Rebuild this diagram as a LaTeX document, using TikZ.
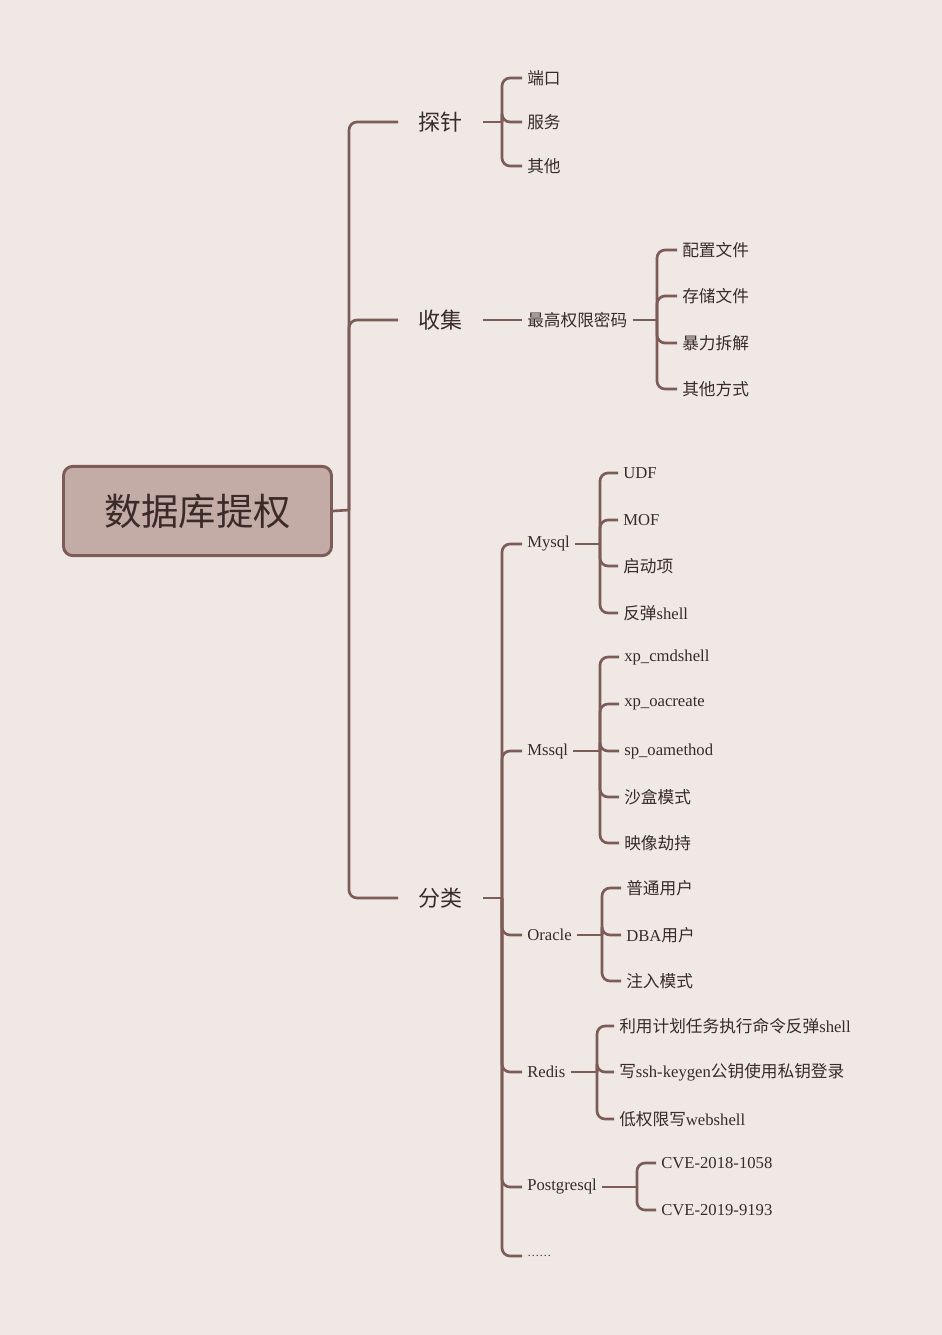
\documentclass[tikz,border=0pt]{standalone}
\usepackage{fontspec}
\setmainfont{Liberation Serif}
\newfontfamily\cjk{Noto Sans CJK SC}
\newcommand\zh[1]{{\cjk #1}}
\definecolor{bg}{HTML}{EFE8E5}
\definecolor{ln}{HTML}{7D5C57}
\definecolor{tx}{HTML}{3A2A28}
\definecolor{rootfill}{HTML}{C2ACA5}
\begin{document}
\begin{tikzpicture}[x=0.75pt,y=-0.75pt,
  conn/.style={draw=ln,line width=2pt,rounded corners=6pt},
  leaf/.style={anchor=west,inner xsep=3.75pt,inner ysep=0pt,text=tx,font=\fontsize{12.5}{14}\selectfont},
  lvlone/.style={anchor=west,inner xsep=15pt,inner ysep=0pt,text=tx,font=\fontsize{16.5}{18}\selectfont\cjk},
  rootbox/.style={draw=ln,line width=2.2pt,fill=rootfill,rounded corners=7pt,minimum width=201pt,minimum height=67pt,text=tx,font=\fontsize{28}{30}\selectfont\cjk}]
\fill[bg] (0,0) rectangle (942,1335);
\useasboundingbox (0,0) rectangle (942,1335);
% root
\node[rootbox] (root) at (197.5,511) {数据库提权};
\node[lvlone] (tz) at (398,122) {探针};
\node[lvlone] (sj) at (398,320) {收集};
\node[lvlone] (fl) at (398,898) {分类};
\coordinate (t) at (349,510);
\draw[conn] (root.east) -- (t);
\foreach \n in {tz,sj,fl} \draw[conn] (t) |- (\n.west);
% tanzhen
\node[leaf] (dk) at (522,78) {\zh{端口}};
\node[leaf] (fw) at (522,122) {\zh{服务}};
\node[leaf] (qt) at (522,166) {\zh{其他}};
\coordinate (tzb) at (502,122);
\draw[conn] (tz.east) -- (tzb);
\foreach \n in {dk,fw,qt} \draw[conn] (tzb) |- (\n.west);
% shouji
\node[leaf] (zg) at (522,320) {\zh{最高权限密码}};
\draw[conn] (sj.east) -- (zg.west);
\node[leaf] (p1) at (677,250) {\zh{配置文件}};
\node[leaf] (p2) at (677,296) {\zh{存储文件}};
\node[leaf] (p3) at (677,343) {\zh{暴力拆解}};
\node[leaf] (p4) at (677,389) {\zh{其他方式}};
\coordinate (zgb) at (657,320);
\draw[conn] (zg.east) -- (zgb);
\foreach \n in {p1,p2,p3,p4} \draw[conn] (zgb) |- (\n.west);
% fenlei
\node[leaf] (my) at (522,544) {Mysql};
\node[leaf] (ms) at (522,751) {Mssql};
\node[leaf] (or) at (522,935) {Oracle};
\node[leaf] (rd) at (522,1072) {Redis};
\node[leaf] (pg) at (522,1187) {Postgresql};
\node[leaf] (dots) at (522,1256) {\fontsize{9}{10}\selectfont ……};
\coordinate (flb) at (502,898);
\draw[conn] (fl.east) -- (flb);
\foreach \n in {my,ms,or,rd,pg,dots} \draw[conn] (flb) |- (\n.west);
% mysql
\node[leaf] (m1) at (618,473) {UDF};
\node[leaf] (m2) at (618,520) {MOF};
\node[leaf] (m3) at (618,566) {\zh{启动项}};
\node[leaf] (m4) at (618,613) {\zh{反弹}shell};
\coordinate (myb) at (600,544);
\draw[conn] (my.east) -- (myb);
\foreach \n in {m1,m2,m3,m4} \draw[conn] (myb) |- (\n.west);
% mssql
\node[leaf] (s1) at (619,657) {xp\_cmdshell};
\node[leaf] (s2) at (619,704) {xp\_oacreate};
\node[leaf] (s3) at (619,751) {sp\_oamethod};
\node[leaf] (s4) at (619,797) {\zh{沙盒模式}};
\node[leaf] (s5) at (619,843) {\zh{映像劫持}};
\coordinate (msb) at (600,751);
\draw[conn] (ms.east) -- (msb);
\foreach \n in {s1,s2,s3,s4,s5} \draw[conn] (msb) |- (\n.west);
% oracle
\node[leaf] (o1) at (621,888) {\zh{普通用户}};
\node[leaf] (o2) at (621,935) {DBA\zh{用户}};
\node[leaf] (o3) at (621,981) {\zh{注入模式}};
\coordinate (orb) at (602,935);
\draw[conn] (or.east) -- (orb);
\foreach \n in {o1,o2,o3} \draw[conn] (orb) |- (\n.west);
% redis
\node[leaf] (r1) at (614,1026) {\zh{利用计划任务执行命令反弹}shell};
\node[leaf] (r2) at (614,1072) {\zh{写}ssh-keygen\zh{公钥使用私钥登录}};
\node[leaf] (r3) at (614,1119) {\zh{低权限写}webshell};
\coordinate (rdb) at (597,1072);
\draw[conn] (rd.east) -- (rdb);
\foreach \n in {r1,r2,r3} \draw[conn] (rdb) |- (\n.west);
% postgresql
\node[leaf] (g1) at (656,1163) {CVE-2018-1058};
\node[leaf] (g2) at (656,1210) {CVE-2019-9193};
\coordinate (pgb) at (637,1187);
\draw[conn] (pg.east) -- (pgb);
\foreach \n in {g1,g2} \draw[conn] (pgb) |- (\n.west);
\end{tikzpicture}
\end{document}
